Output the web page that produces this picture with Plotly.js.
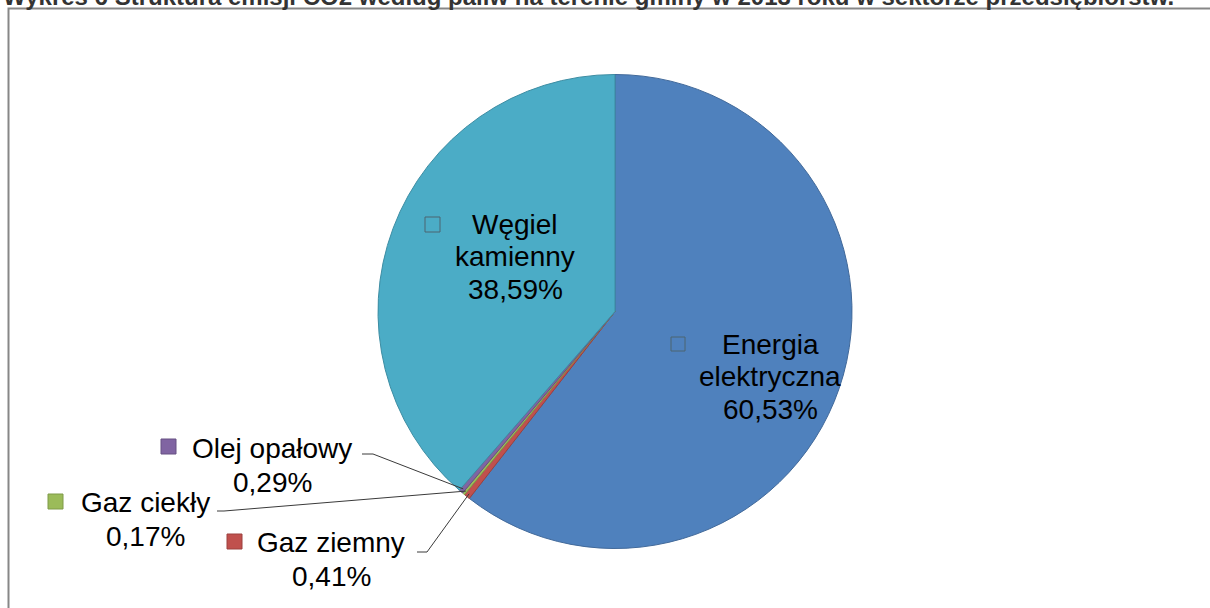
<!DOCTYPE html>
<html><head><meta charset="utf-8">
<script src="https://cdn.plot.ly/plotly-3.0.1.min.js"></script>
<style>html,body{margin:0;padding:0;background:#fff;overflow:hidden}#chart{width:1210px;height:608px}</style>
</head><body><div id="chart"></div>
<script>
// ---- data ----
const categories = ["Energia elektryczna", "Gaz ziemny", "Gaz ciekły", "Olej opałowy", "Węgiel kamienny"];
const labelLines = [["Energia", "elektryczna"], ["Gaz ziemny"], ["Gaz ciekły"], ["Olej opałowy"], ["Węgiel", "kamienny"]];
const shares = [60.53, 0.41, 0.17, 0.29, 38.59];
const sliceColors = ["#4F81BD", "#C0504D", "#9BBB59", "#8064A2", "#4BACC6"];
const edgeColors = ["#41699a", "#9c403e", "#7e9a48", "#675083", "#3d8da3"];
const titleText = "Wykres 6 Struktura emisji CO2 według paliw na terenie gminy w 2013 roku w sektorze przedsiębiorstw.";

// ---- layout helpers ----
const W = 1210, H = 608;
const px = x => x / W;
const py = y => 1 - y / H;
const CX = 615, CY = 311.5, R = 237;
const FONT = "'Liberation Sans', Arial, sans-serif";
const FS = 28;
const fmt = v => v.toFixed(2).replace('.', ',') + '%';

// label placement (pixel layout, per category order)
const place = [
  {x: 770, base: 354, gap: 32.5, sq: [671, 337, 14], inside: true},
  {x: 331, base: 552, gap: 34, sq: [227, 534, 15], inside: false, lead: [[417, 552], [427, 552]]},
  {x: 145, base: 512, gap: 34, sq: [48, 494, 15], inside: false, lead: [[217, 511], [224, 511]]},
  {x: 272, base: 458, gap: 34, sq: [161, 439, 15], inside: false, lead: [[362, 454], [373, 454]]},
  {x: 515, base: 234, gap: 32.5, sq: [425, 217, 15], inside: true}
];

const total = shares.reduce((a, b) => a + b, 0);
let cum = 0;
const midAngles = shares.map(v => { const a = (cum + v / 2) / total * 2 * Math.PI; cum += v; return a; });

const annotations = [];
const shapes = [];

// frame
shapes.push({type: 'rect', xref: 'paper', yref: 'paper', x0: px(8.5), x1: px(1230), y0: py(8.5), y1: py(640),
  line: {color: '#878787', width: 2}, fillcolor: 'rgba(0,0,0,0)', layer: 'below'});

// title (cut off at the top edge, as in the reference)
annotations.push({xref: 'paper', yref: 'paper', x: px(1), y: py(-3.6), xanchor: 'left', yanchor: 'middle',
  text: '<b>' + titleText + '</b>', showarrow: false, font: {family: FONT, size: 24, color: '#333333'}});

categories.forEach((c, i) => {
  const p = place[i];
  const lines = labelLines[i].concat([fmt(shares[i])]);
  lines.forEach((t, k) => {
    const base = p.base + k * p.gap;
    annotations.push({xref: 'paper', yref: 'paper', x: px(p.x), y: py(base - 0.3465 * FS), xanchor: 'center', yanchor: 'middle',
      text: t, showarrow: false, font: {family: FONT, size: FS, color: '#000000'}});
  });
  const [sx, sy, ss] = p.sq;
  shapes.push({type: 'rect', xref: 'paper', yref: 'paper', x0: px(sx), x1: px(sx + ss), y0: py(sy), y1: py(sy + ss),
    line: {color: p.inside ? '#4d6470' : edgeColors[i], width: 1},
    fillcolor: p.inside ? 'rgba(0,0,0,0)' : sliceColors[i], layer: 'above'});
  if (p.lead) {
    const a = midAngles[i];
    const ex = CX + 0.985 * R * Math.sin(a), ey = CY - 0.985 * R * Math.cos(a);
    const pts = p.lead.concat([[ex, ey]]);
    let path = 'M' + pts.map(q => px(q[0]) + ',' + py(q[1])).join(' L');
    shapes.push({type: 'path', xref: 'paper', yref: 'paper', path: path, line: {color: '#3a3a3a', width: 1}, layer: 'above'});
  }
});

const trace = {
  type: 'pie', labels: categories, values: shares, sort: false, direction: 'clockwise', rotation: 0,
  marker: {colors: sliceColors, line: {color: edgeColors, width: 1}},
  textinfo: 'none', hoverinfo: 'label+percent', showlegend: false,
  domain: {x: [px(CX - R), px(CX + R)], y: [py(CY + R), py(CY - R)]}
};

Plotly.newPlot('chart', [trace], {
  width: W, height: H, margin: {l: 0, r: 0, t: 0, b: 0},
  paper_bgcolor: '#ffffff', plot_bgcolor: '#ffffff', showlegend: false,
  annotations: annotations, shapes: shapes
}, {displayModeBar: false, staticPlot: true});
</script></body></html>
